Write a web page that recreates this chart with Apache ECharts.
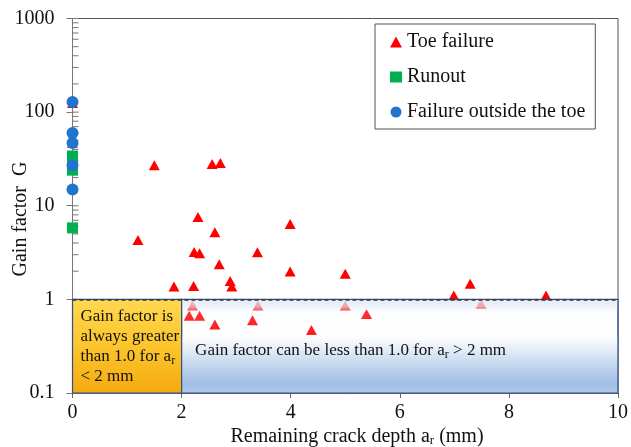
<!DOCTYPE html>
<html>
<head>
<meta charset="utf-8">
<script src="https://cdn.jsdelivr.net/npm/echarts@6/dist/echarts.min.js"></script>
<style>
html,body{margin:0;padding:0;background:#fff;}
#chart{width:631px;height:447px;}
</style>
</head>
<body>
<div id="chart"></div>
<script>
// ---- data ----
const toeX = [0, 0, 1.2, 1.5, 1.86, 2.14, 2.2, 2.22, 2.23, 2.3, 2.33, 2.33, 2.56, 2.61, 2.61, 2.69, 2.71, 2.89, 2.92, 3.3, 3.39, 3.4, 3.99, 3.99, 4.38, 5.0, 5.0, 5.39, 6.99, 7.29, 7.49, 8.68];
const toeY = [125, 47, 4.3, 27, 1.37, 0.67, 0.86, 1.39, 3.2, 7.6, 3.1, 0.67, 28, 5.2, 0.54, 2.37, 28.7, 1.57, 1.37, 0.6, 3.18, 0.86, 6.4, 1.99, 0.47, 1.88, 0.86, 0.7, 1.1, 1.47, 0.9, 1.1];
const runoutX = [0, 0, 0, 0];
const runoutY = [34, 28, 24, 5.8];
const outsideX = [0, 0, 0, 0, 0];
const outsideY = [128, 60, 46.8, 27, 14.9];
const seriesNames = ['Toe failure', 'Runout', 'Failure outside the toe'];
const xTickLabels = ['0', '2', '4', '6', '8', '10'];
const yTickLabels = ['0.1', '1', '10', '100', '1000'];
// region boxes: [xStart, xEnd, yLow, yHigh]
const regionBoxes = [[0, 2, 0.1, 1], [2, 10, 0.1, 1]];
const regionTexts = ['Gain factor is\nalways greater\nthan 1.0 for a{sub|r}\n< 2 mm', 'Gain factor can be less than 1.0 for a{sub|r} > 2 mm'];
const minorTickValues = [];
for (let e = -1; e < 3; e++) for (let m = 1; m <= 9; m++) minorTickValues.push(m * Math.pow(10, e));
minorTickValues.push(1000);

const FONT = "'Liberation Serif', 'Times New Roman', serif";
const zip = (xs, ys) => xs.map((x, i) => [x, ys[i]]);

const chart = echarts.init(document.getElementById('chart'), null, {renderer: 'canvas'});

const yellowGrad = new echarts.graphic.LinearGradient(0, 0, 0, 1, [
  {offset: 0, color: '#ffd84f'},
  {offset: 0.5, color: '#fcc52c'},
  {offset: 1, color: '#f5aa10'}
]);
const blueGrad = new echarts.graphic.LinearGradient(0, 0, 0, 1, [
  {offset: 0, color: 'rgba(222,231,244,0.85)'},
  {offset: 0.08, color: 'rgba(230,237,247,0.7)'},
  {offset: 0.14, color: 'rgba(240,244,250,0.2)'},
  {offset: 0.37, color: 'rgba(250,252,255,0.1)'},
  {offset: 0.44, color: 'rgba(245,248,252,0.9)'},
  {offset: 0.65, color: 'rgba(205,220,240,1)'},
  {offset: 0.9, color: 'rgba(160,190,228,1)'},
  {offset: 1, color: 'rgba(178,202,234,1)'}
]);

const subStyle = {fontSize: 12, fontFamily: FONT, fill: '#111', verticalAlign: 'bottom', lineHeight: 17};

const option = {
  backgroundColor: '#fff',
  animation: false,
  textStyle: {fontFamily: FONT},
  grid: {left: 72.5, right: 9.5, top: 18.5, bottom: 54, show: true, borderColor: '#555', borderWidth: 1, backgroundColor: 'transparent'},
  legend: {
    data: seriesNames,
    orient: 'vertical',
    left: 375, top: 24,
    padding: [8, 10, 7, 15],
    itemGap: 15,
    itemWidth: 12, itemHeight: 11,
    borderColor: '#555', borderWidth: 1,
    backgroundColor: '#fff',
    selectedMode: false,
    formatter: '{t|{name}}',
    textStyle: {
      fontFamily: FONT, fontSize: 20, color: '#111',
      rich: {t: {fontFamily: FONT, fontSize: 20, color: '#111'}}
    }
  },
  xAxis: {
    type: 'value', min: 0, max: 10, interval: 2,
    axisLine: {show: true, lineStyle: {color: '#666'}},
    axisTick: {show: true, length: 5, lineStyle: {color: '#666'}},
    splitLine: {show: false},
    axisLabel: {margin: 10, fontFamily: FONT, fontSize: 20, color: '#111',
      formatter: v => xTickLabels[Math.round(v / 2)]}
  },
  yAxis: {
    type: 'log', logBase: 10, min: 0.1, max: 1000,
    axisLine: {show: true, lineStyle: {color: '#777'}},
    axisTick: {show: true, length: 6, lineStyle: {color: '#777'}},
    splitLine: {show: false},
    axisLabel: {margin: 18, fontFamily: FONT, fontSize: 20, color: '#111',
      formatter: v => yTickLabels[Math.round(Math.log10(v)) + 1]}
  },
  graphic: [
    {type: 'text', x: 357, y: 437, style: {
      text: 'Remaining crack depth a{sub|r} (mm)', fontFamily: FONT, fontSize: 20, fill: '#111',
      align: 'center', verticalAlign: 'middle',
      rich: {sub: {fontSize: 13, fontFamily: FONT, fill: '#111', verticalAlign: 'bottom', lineHeight: 20}}
    }},
    {type: 'text', x: 21, y: 219, rotation: Math.PI / 2, style: {
      text: 'Gain factor  G', fontFamily: FONT, fontSize: 20, fill: '#111',
      align: 'center', verticalAlign: 'middle'
    }}
  ],
  series: [
    {
      name: seriesNames[0], type: 'scatter', symbol: 'triangle', symbolSize: [11, 10],
      itemStyle: {color: '#ff0000', opacity: 1}, clip: false, z: 2,
      data: zip(toeX, toeY),
      markLine: {
        silent: true, symbol: 'none', z: 4,
        label: {show: false},
        lineStyle: {color: '#333', type: [4, 3], width: 1.5},
        data: [{yAxis: 1}]
      }
    },
    {
      name: seriesNames[1], type: 'scatter', symbol: 'rect', symbolSize: 11,
      itemStyle: {color: '#00b050', opacity: 1}, clip: false, z: 2,
      data: zip(runoutX, runoutY)
    },
    {
      name: seriesNames[2], type: 'scatter', symbol: 'circle', symbolSize: 12,
      itemStyle: {color: '#1f74cc', opacity: 1}, clip: false, z: 2,
      data: zip(outsideX, outsideY)
    },
    {
      name: 'regions', type: 'custom', z: 3, silent: true,
      encode: {x: [0, 1], y: [2, 3]},
      data: regionBoxes,
      renderItem: function (params, api) {
        const p0 = api.coord([api.value(0), api.value(3)]);
        const p1 = api.coord([api.value(1), api.value(2)]);
        const idx = params.dataIndex;
        const rect = {
          type: 'rect',
          shape: {x: p0[0], y: p0[1], width: p1[0] - p0[0], height: p1[1] - p0[1]},
          style: {fill: idx === 0 ? yellowGrad : blueGrad, stroke: '#2f4e8c', lineWidth: 1.2}
        };
        const txt = idx === 0 ? {
          type: 'text', x: p0[0] + 8, y: p0[1] + 7,
          style: {text: regionTexts[0], fontFamily: FONT, fontSize: 17, lineHeight: 20, fill: '#111',
            align: 'left', verticalAlign: 'top', rich: {sub: subStyle}}
        } : {
          type: 'text', x: p0[0] + 13.5, y: p0[1] + 51,
          style: {text: regionTexts[1], fontFamily: FONT, fontSize: 17, lineHeight: 20, fill: '#111',
            align: 'left', verticalAlign: 'middle', rich: {sub: subStyle}}
        };
        return {type: 'group', children: [rect, txt]};
      }
    },
    {
      name: 'innerTicks', type: 'custom', z: 1, silent: true,
      encode: {y: 0},
      data: minorTickValues.map(v => [v]),
      renderItem: function (params, api) {
        const p = api.coord([0, api.value(0)]);
        return {type: 'line', shape: {x1: p[0], y1: p[1], x2: p[0] + 6, y2: p[1]},
          style: {stroke: '#777', lineWidth: 1}};
      }
    }
  ]
};
chart.setOption(option);
</script>
</body>
</html>
